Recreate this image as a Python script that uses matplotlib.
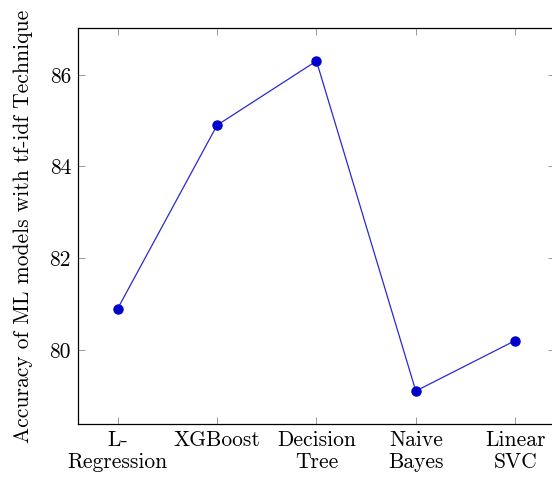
import matplotlib.pyplot as plt

plt.rcParams['font.family'] = ['cmr10', 'DejaVu Serif']
plt.rcParams['axes.formatter.use_mathtext'] = True

# Дані
models = ['L-\nRegression', 'XGBoost', 'Decision\nTree', 'Naive\nBayes', 'Linear\nSVC']
accuracy = [80.9, 84.9, 86.3, 79.1, 80.2]
y_ticks = [80, 82, 84, 86]

fig = plt.figure(figsize=(5.52, 4.79), dpi=100)
ax = fig.add_axes([0.1413, 0.1148, 0.864, 0.8267])

x = range(1, len(models) + 1)
ax.plot(x, accuracy, color='#2a2ad0', lw=0.9, marker='o', markersize=6.5,
        markerfacecolor='#0000cc', markeredgecolor='#0000cc')

ax.set_xlim(0.6, 5.4)
ax.set_ylim(78.38, 87.02)
ax.set_xticks(list(x))
ax.set_xticklabels(models, fontsize=15.5, linespacing=1.1)
ax.set_yticks(y_ticks)
ax.set_yticklabels([str(v) for v in y_ticks], fontsize=15.5)
ax.set_ylabel('Accuracy of ML models with tf-idf Technique', fontsize=15.5, labelpad=12)

ax.tick_params(direction='in', length=5, width=0.6, color='#888888',
               top=True, right=True, pad=5)
for s in ax.spines.values():
    s.set_linewidth(0.9)

fig.savefig('out.png', dpi=100)
